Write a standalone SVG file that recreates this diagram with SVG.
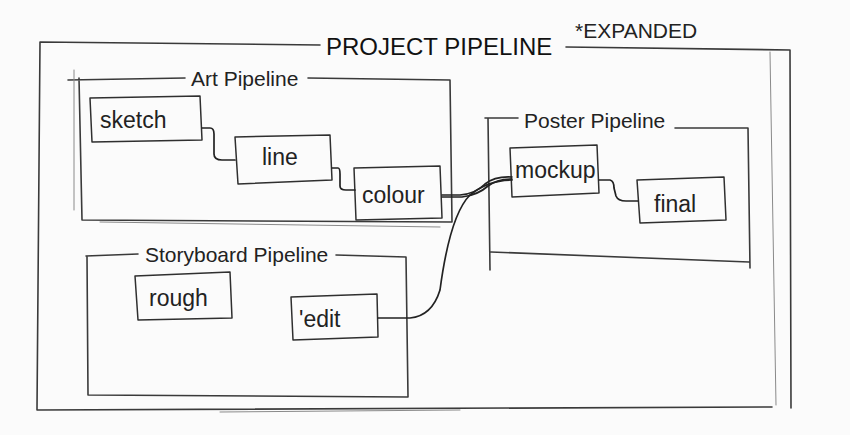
<svg xmlns="http://www.w3.org/2000/svg" width="850" height="435" viewBox="0 0 850 435">
<defs>
<style>
.bg{fill:#fbfbfb}
.frame{fill:none;stroke:#3a3a3a;stroke-width:1.6;stroke-linecap:round;stroke-linejoin:round}
.faint{fill:none;stroke:#8a8a8a;stroke-width:1;stroke-linecap:round}
.node{fill:none;stroke:#2f2f2f;stroke-width:1.5;stroke-linejoin:round}
.edge{fill:none;stroke:#222;stroke-width:1.7;stroke-linecap:round;stroke-linejoin:round}
.lbl{font-family:"Liberation Sans","DejaVu Sans",sans-serif;fill:#222;font-size:23px}
.grp{font-family:"Liberation Sans","DejaVu Sans",sans-serif;fill:#222;font-size:21px}
.ttl{font-family:"Liberation Sans","DejaVu Sans",sans-serif;fill:#111;font-size:24px}
</style>
</defs>
<rect class="bg" x="0" y="0" width="850" height="435"/>

<g id="project-pipeline">
<path class="frame" d="M40 42 L320 45 M566 47 L790 50 L791 408 M40 42 L37 410 L772 407"/>
<path class="faint" d="M220 412 L460 410 M770 52 L776 405"/>
<text class="ttl" x="326" y="55">PROJECT PIPELINE</text>
<text class="grp" x="575" y="38" font-size="24">*EXPANDED</text>
</g>

<g id="art-pipeline">
<path class="frame" d="M68 80 L185 78 M308 78 L450 80 L452 222 L82 220 L79 78"/>
<path class="faint" d="M74 70 L74 210 M100 222 L440 227"/>
<text class="grp" x="191" y="86">Art Pipeline</text>
</g>

<g id="poster-pipeline">
<path class="frame" d="M485 118 L518 118 M675 128 L748 128 L750 268 M488 118 L490 270 M491 252 L749 262"/>
<text class="grp" x="524" y="128">Poster Pipeline</text>
</g>

<g id="storyboard-pipeline">
<path class="frame" d="M86 256 L138 254 M336 255 L406 257 L408 397 L88 395 L87 256"/>
<text class="grp" x="145" y="262">Storyboard Pipeline</text>
</g>

<g id="node-sketch">
<path class="node" d="M90 98 L200 96 L202 140 L92 142 Z"/>
<text class="lbl" x="100" y="128">sketch</text>
</g>
<g id="node-line">
<path class="node" d="M235 137 L330 135 L332 180 L238 184 Z"/>
<text class="lbl" x="262" y="165">line</text>
</g>
<g id="node-colour">
<path class="node" d="M354 168 L440 166 L442 218 L356 220 Z"/>
<text class="lbl" x="362" y="203">colour</text>
</g>
<g id="node-mockup">
<path class="node" d="M510 148 L597 145 L599 193 L512 197 Z"/>
<text class="lbl" x="515" y="178" font-size="21">mockup</text>
</g>
<g id="node-final">
<path class="node" d="M637 180 L724 177 L726 220 L640 223 Z"/>
<text class="lbl" x="654" y="212">final</text>
</g>
<g id="node-rough">
<path class="node" d="M135 276 L230 272 L232 318 L138 320 Z"/>
<text class="lbl" x="149" y="306">rough</text>
</g>
<g id="node-edit">
<path class="node" d="M291 297 L377 294 L378 337 L293 340 Z"/>
<text class="lbl" x="299" y="327">'edit</text>
</g>

<g id="connectors">
<path class="edge" d="M202 128 L210 128 Q214 128 214 134 L214 154 Q214 160 222 160 L235 160"/>
<path class="edge" d="M332 168 L338 168 Q340 168 340 174 L340 186 Q340 190 346 190 L355 190"/>
<path class="edge" d="M442 195 L460 195 Q475 194 485 184 Q495 176 512 177"/>
<path class="edge" d="M442 197 L462 197 Q478 195 488 186 Q497 179 512 179"/>
<path class="edge" d="M378 318 L410 318 Q432 316 440 290 Q450 215 470 195 Q488 180 512 180"/>
<path class="edge" d="M599 180 L610 180 Q614 181 614 188 L616 196 Q618 201 626 201 L638 201"/>
</g>
</svg>
